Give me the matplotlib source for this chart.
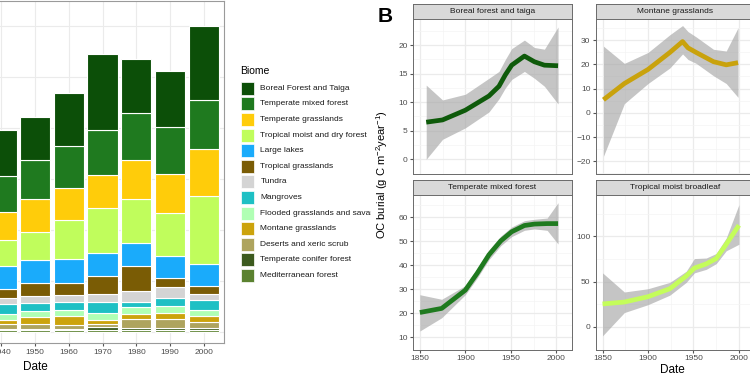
import matplotlib

matplotlib.use("Agg")
import matplotlib.pyplot as plt
from matplotlib.patches import Rectangle

plt.rcParams["font.family"] = ["Liberation Sans", "DejaVu Sans"]
plt.rcParams["mathtext.fontset"] = "custom"
plt.rcParams["mathtext.rm"] = "Liberation Sans"
plt.rcParams["mathtext.it"] = "Liberation Sans:italic"

W, H = 750, 375

# ---- panel A: stacked OC burial by biome (only 1940-2000 visible) ----
years = [1940, 1950, 1960, 1970, 1980, 1990, 2000]

biomes = [
    "Boreal Forest and Taiga",
    "Temperate mixed forest",
    "Temperate grasslands",
    "Tropical moist and dry forest",
    "Large lakes",
    "Tropical grasslands",
    "Tundra",
    "Mangroves",
    "Flooded grasslands and savannas",
    "Montane grasslands",
    "Deserts and xeric scrub",
    "Temperate conifer forest",
    "Mediterranean forest",
]
biome_colors = [
    "#0c4f08", "#1f7a1f", "#ffcc0a", "#c0fd5c", "#1aabfb", "#7a5c05",
    "#d4d4d4", "#1ec0c4", "#b0ffb4", "#cca30c", "#aea45e", "#3c5a1e", "#5b8230",
]

boreal = [45.5, 42.1, 52.3, 74.5, 52.9, 54.2, 71.8]
temp_mixed = [35.3, 39.2, 41.2, 44.1, 45.8, 46.4, 48.7]
temp_grass = [27.7, 31.4, 31.0, 32.3, 38.5, 38.2, 46.1]
trop_moist = [25.2, 28.4, 38.9, 44.1, 43.5, 41.8, 66.6]
lakes = [22.1, 22.2, 22.8, 22.2, 22.5, 22.2, 21.6]
trop_grass = [9.2, 13.0, 11.8, 17.9, 24.5, 8.8, 7.8]
tundra = [5.5, 6.2, 7.3, 8.2, 10.8, 10.8, 5.9]
mangroves = [10.5, 8.2, 7.4, 10.8, 4.9, 8.1, 9.1]
flooded = [5.9, 5.9, 6.6, 6.5, 6.5, 6.2, 6.3]
montane = [3.9, 7.2, 8.1, 3.9, 5.6, 5.9, 6.2]
deserts = [4.2, 4.2, 3.9, 3.3, 8.5, 9.2, 5.6]
conifer = [1.7, 1.7, 1.7, 2.5, 2.3, 1.6, 2.3]
mediterranean = [2.0, 2.0, 2.0, 2.6, 2.0, 2.6, 2.0]

# stacking order, top of legend = top of stack
stack = [boreal, temp_mixed, temp_grass, trop_moist, lakes, trop_grass, tundra,
         mangroves, flooded, montane, deserts, conifer, mediterranean]

# ---- panel B: smoothed OC burial per biome ----
boreal_year = [1857, 1875, 1900, 1926, 1937, 1944, 1951, 1965, 1976, 1987, 2002]
boreal_fit = [6.5, 6.9, 8.6, 11.1, 12.8, 14.8, 16.5, 18.1, 17.1, 16.5, 16.4]
boreal_hi = [13.0, 10.4, 11.4, 14.2, 15.4, 17.5, 19.4, 20.9, 19.6, 19.3, 23.2]
boreal_lo = [0.0, 3.5, 5.5, 8.3, 10.6, 12.5, 14.0, 15.4, 14.2, 12.8, 9.7]

montane_year = [1851, 1874, 1900, 1924, 1938, 1944, 1953, 1972, 1986, 1999]
montane_fit = [5.4, 12.1, 17.9, 24.9, 29.4, 26.8, 24.9, 21.1, 19.8, 20.7]
montane_hi = [27.5, 20.4, 24.9, 32.2, 36.0, 33.5, 31.3, 26.2, 25.5, 35.1]
montane_lo = [-17.9, 3.8, 12.1, 18.5, 24.3, 22.0, 20.4, 15.3, 12.1, 6.4]

tmf_year = [1850, 1874, 1900, 1913, 1926, 1939, 1951, 1965, 1976, 1990, 2002]
tmf_fit = [20.4, 22.1, 29.7, 36.7, 44.4, 50.2, 54.0, 56.6, 57.2, 57.4, 57.4]
tmf_hi = [27.8, 25.9, 31.6, 38.7, 46.4, 52.2, 56.0, 58.6, 59.2, 59.7, 66.1]
tmf_lo = [12.7, 18.2, 27.8, 34.7, 42.4, 48.2, 52.0, 54.6, 55.2, 54.6, 48.9]

trop_year = [1850, 1874, 1900, 1924, 1942, 1951, 1964, 1975, 1986, 2000]
trop_fit = [25.3, 27.4, 33.3, 42.1, 56.1, 64.9, 69.5, 75.4, 91.2, 112.2]
trop_hi = [59.6, 38.5, 42.1, 49.1, 61.4, 75.4, 76.0, 81.0, 98.0, 135.0]
trop_lo = [-9.9, 15.8, 24.5, 35.0, 49.1, 59.6, 63.5, 69.8, 84.0, 91.2]

TICK_COL = "#4d4d4d"


def px_axes(fig, x0, y0, x1, y1):
    return fig.add_axes([x0 / W, 1 - y1 / H, (x1 - x0) / W, (y1 - y0) / H])


fig = plt.figure(figsize=(W / 100, H / 100), dpi=100)

# ---------------- left stacked bars ----------------
ax = px_axes(fig, 0, 1, 224, 343)
bottom = [0.0] * len(years)
for values, color in zip(reversed(stack), reversed(biome_colors)):
    ax.bar(years, values, width=9, bottom=bottom, color=color,
           edgecolor="white", linewidth=0.8, zorder=3)
    bottom = [b + v for b, v in zip(bottom, values)]
ax.set_xlim(1939.6, 2006)
ax.set_ylim(-10.3, 325)
ax.set_xticks(years)
ax.set_xticklabels([str(y) for y in years])
ax.set_yticks(range(0, 301, 50))
ax.tick_params(axis="y", left=False, labelleft=False)
ax.tick_params(axis="x", length=2.5, color="#555555", labelsize=6,
               labelcolor=TICK_COL, pad=2)
ax.grid(True, color="#ebebeb", linewidth=0.8, zorder=0)
ax.set_axisbelow(True)
for side, sp in ax.spines.items():
    sp.set_color("#9a9a9a")
    sp.set_linewidth(0.8)
ax.spines["left"].set_visible(False)
fig.text(35 / W, 1 - 367 / H, "Date", ha="center", va="center", fontsize=8.5)

# ---------------- legend ----------------
lg = px_axes(fig, 232, 55, 371, 292)
lg.set_xlim(232, 371)
lg.set_ylim(292, 55)
lg.axis("off")
lg.text(240, 71, "Biome", fontsize=7.5, va="center", ha="left", clip_on=True)
for i, (name, color) in enumerate(zip(biomes, biome_colors)):
    yc = 88.3 + 15.6 * i
    lg.add_patch(Rectangle((241, yc - 6.5), 13, 13, facecolor=color,
                           edgecolor="white", linewidth=0.5))
    lg.text(260.5, yc, name, fontsize=6, va="center", ha="left",
            color="#1a1a1a", clip_on=True)

# ---------------- facets ----------------
fig.text(385 / W, 1 - 17 / H, "B", fontsize=15, fontweight="bold",
         ha="center", va="center")
fig.text(382 / W, 1 - 175 / H, "OC burial (g C m$^{-2}$year$^{-1}$)",
         rotation=90, ha="center", va="center", fontsize=8)
fig.text(672 / W, 1 - 370 / H, "Date", ha="center", va="center", fontsize=8.5)


def facet(x0, y0, title, xs, fit, lo, hi, color, ylim, yticks, show_x):
    x1 = x0 + 158.4
    strip = px_axes(fig, x0, y0 - 15, x1, y0)
    strip.set_facecolor("#d9d9d9")
    strip.set_xticks([])
    strip.set_yticks([])
    for sp in strip.spines.values():
        sp.set_color("#6a6a6a")
        sp.set_linewidth(0.7)
    strip.text(0.5, 0.5, title, transform=strip.transAxes, ha="center",
               va="center", fontsize=6, color="#1a1a1a")

    a = px_axes(fig, x0, y0, x1, y0 + 154.5)
    a.fill_between(xs, lo, hi, color="#a6a6a6", alpha=0.65, linewidth=0, zorder=2)
    a.plot(xs, fit, color=color, linewidth=3.4, solid_capstyle="butt",
           solid_joinstyle="round", zorder=3)
    a.set_xlim(1842.8, 2017)
    a.set_ylim(*ylim)
    a.set_xticks([1850, 1900, 1950, 2000])
    a.set_xticks([1875, 1925, 1975], minor=True)
    a.set_yticks(yticks)
    step = yticks[1] - yticks[0]
    a.set_yticks([t + step / 2 for t in yticks[:-1]] + [yticks[0] - step / 2, yticks[-1] + step / 2], minor=True)
    a.grid(True, which="major", color="#ebebeb", linewidth=0.9, zorder=0)
    a.grid(True, which="minor", color="#f4f4f4", linewidth=0.5, zorder=0)
    a.set_axisbelow(True)
    a.tick_params(which="minor", length=0)
    a.tick_params(which="major", length=2.5, color="#555555", labelsize=6,
                  labelcolor=TICK_COL, pad=1.5)
    if not show_x:
        a.tick_params(axis="x", labelbottom=False, length=0)
    for sp in a.spines.values():
        sp.set_color("#6a6a6a")
        sp.set_linewidth(0.7)
    return a


facet(413.3, 19, "Boreal forest and taiga", boreal_year, boreal_fit, boreal_lo,
      boreal_hi, "#0e5a0a", (-1.5, 24.6), [0, 5, 10, 15, 20], False)
facet(596, 19, "Montane grasslands", montane_year, montane_fit, montane_lo,
      montane_hi, "#c9a20c", (-20.4, 38.7), [-20, -10, 0, 10, 20, 30], False)
facet(413.3, 195, "Temperate mixed forest", tmf_year, tmf_fit, tmf_lo, tmf_hi,
      "#1f7a1f", (9.6, 69.3), [10, 20, 30, 40, 50, 60], True)
facet(596, 195, "Tropical moist broadleaf", trop_year, trop_fit, trop_lo,
      trop_hi, "#c4fd5a", (-17.5, 145.6), [0, 50, 100], True)

fig.savefig("out.png", dpi=100, facecolor="white")
